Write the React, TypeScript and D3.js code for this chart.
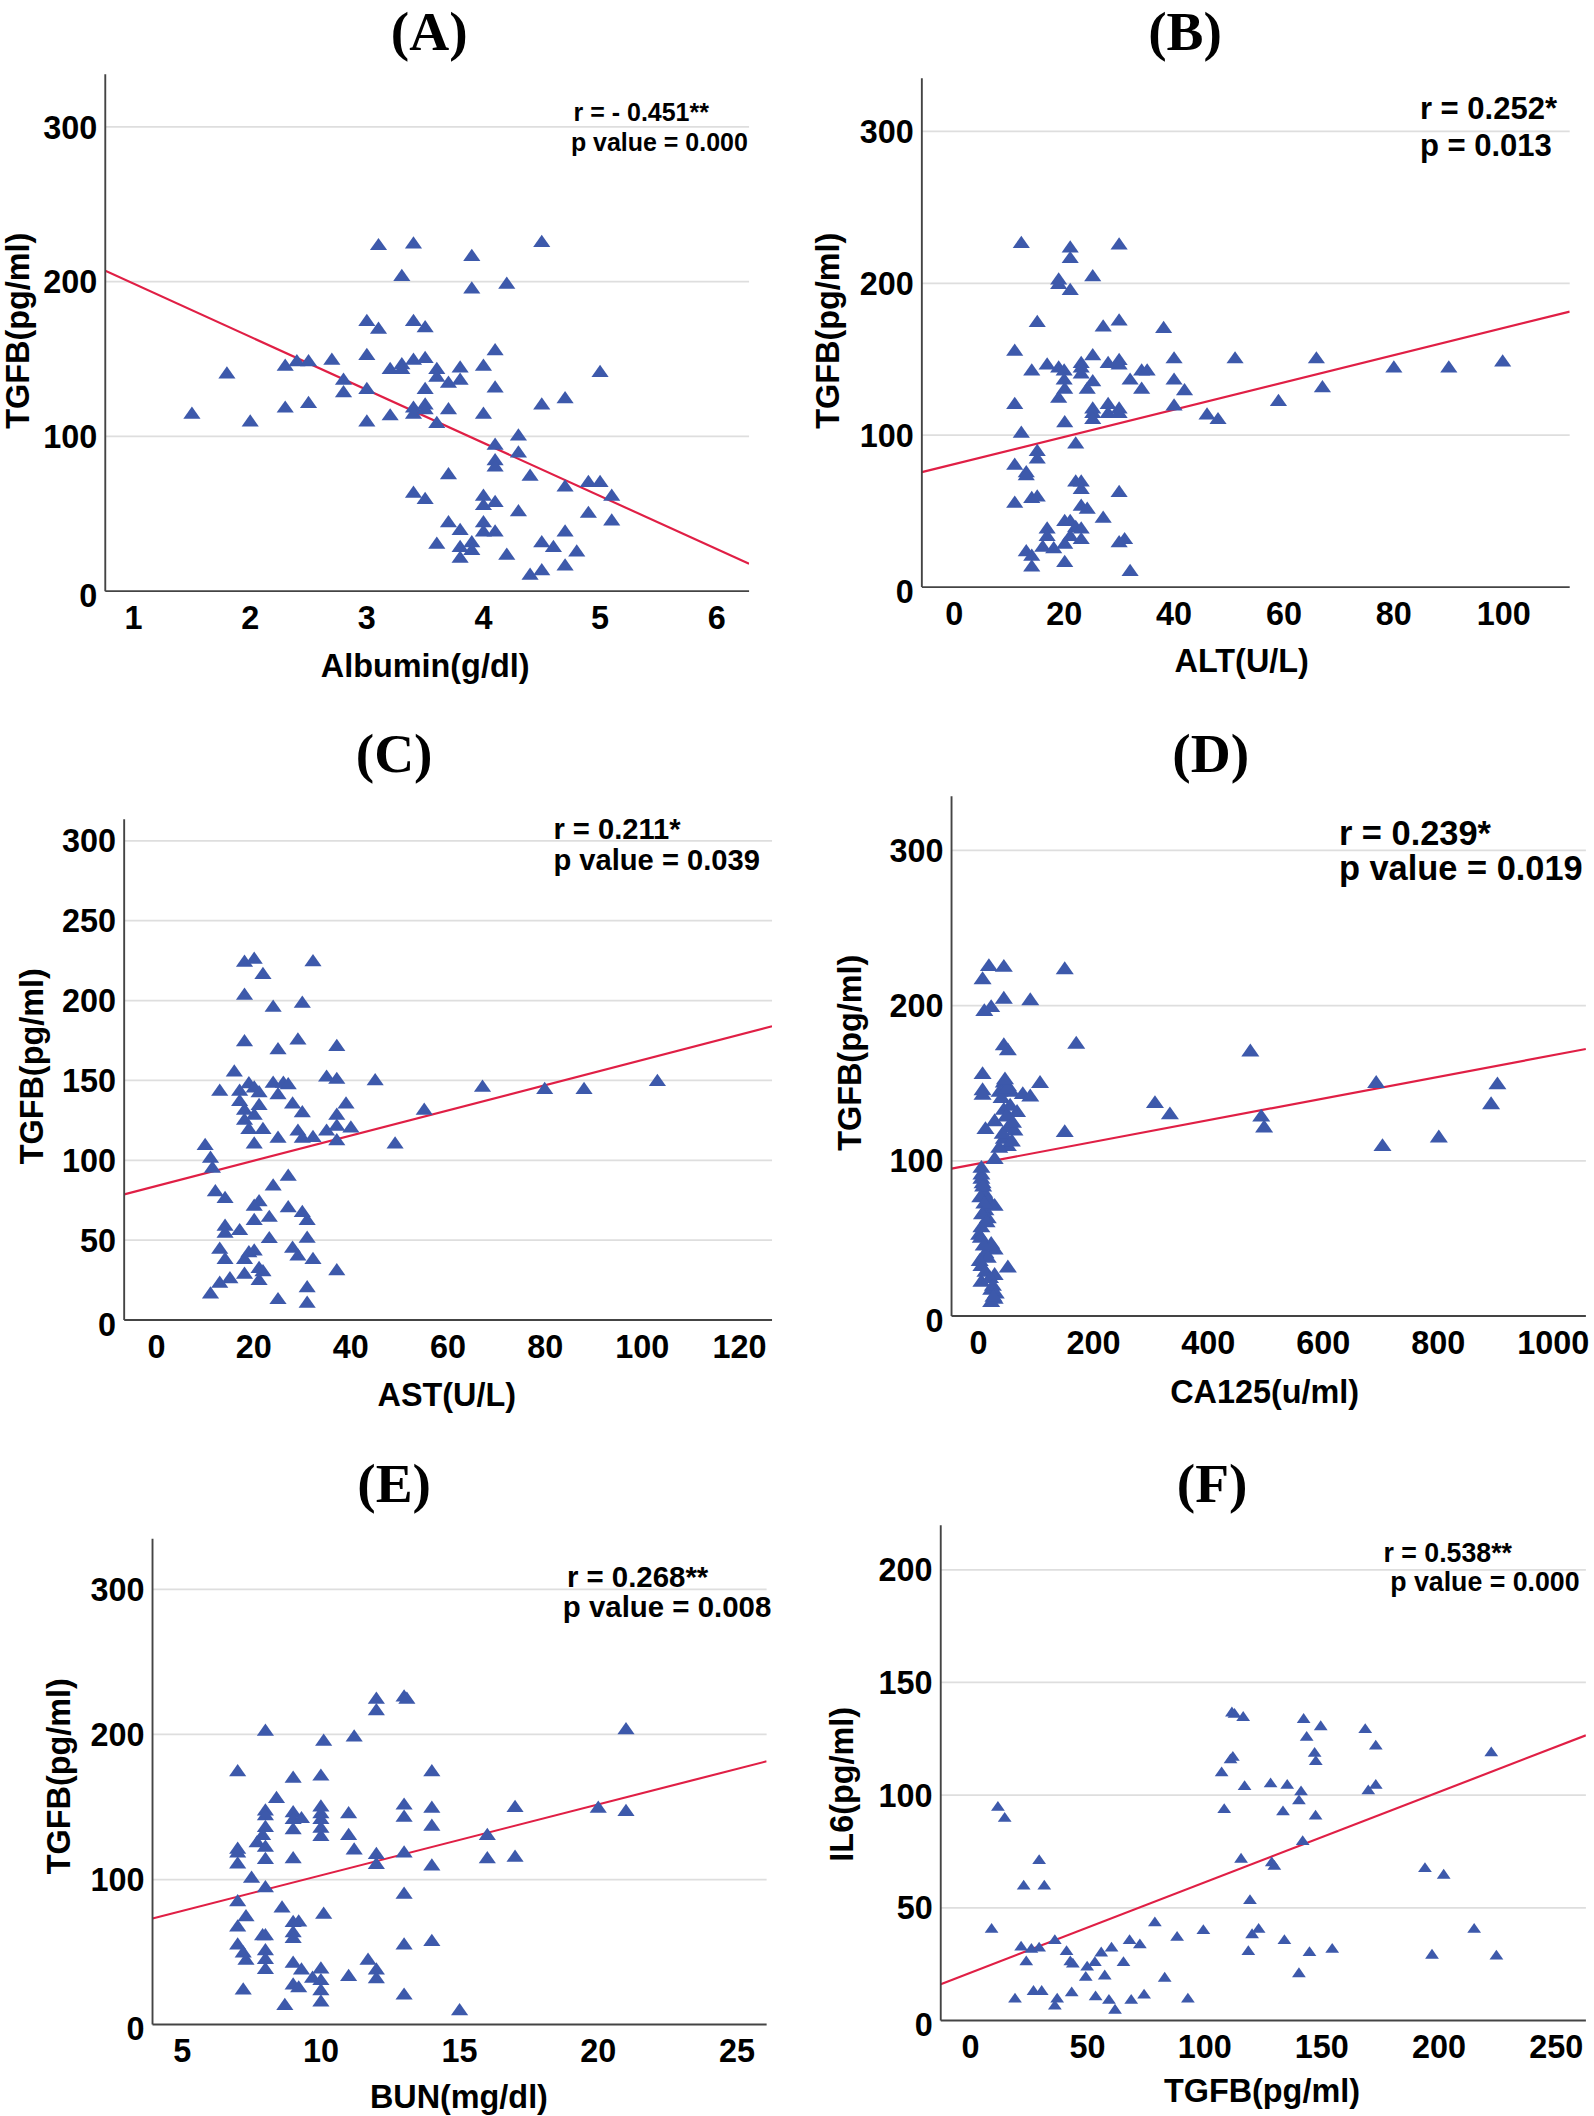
import React from "react";
import * as d3 from "d3";

const S = 1594 / 1181;

// ---------- Panel A: Albumin vs TGFB ----------
const albumin = [3.1, 3.4, 4.5, 3.9, 3.3, 3.9, 4.2, 3.0, 3.1, 3.4, 3.5, 4.1, 1.8, 2.3, 2.4, 2.5, 2.7, 3.0, 3.2, 3.3, 3.3, 3.4, 3.5, 3.6, 3.6, 3.7, 3.8, 3.8, 4.0, 5.0, 2.8, 2.8, 3.0, 3.5, 4.1, 1.5, 2.0, 2.3, 2.5, 3.0, 3.2, 3.4, 3.4, 3.5, 3.5, 3.6, 3.7, 4.0, 4.5, 4.7, 4.3, 4.1, 4.3, 4.1, 4.1, 3.7, 4.4, 4.9, 5.0, 4.7, 5.1, 3.4, 3.5, 4.0, 4.0, 4.1, 4.3, 4.9, 5.1, 3.7, 3.8, 4.0, 4.0, 4.1, 4.7, 3.6, 3.8, 3.9, 3.9, 3.8, 4.2, 4.5, 4.6, 4.8, 4.4, 4.5, 4.7];
const tgfbA = [223, 224, 225, 216, 203, 195, 198, 174, 169, 174, 170, 155, 140, 145, 148, 148, 149, 152, 143, 146, 143, 149, 150, 143, 138, 134, 144, 136, 145, 141, 136, 128, 130, 130, 131, 114, 109, 118, 121, 109, 113, 118, 114, 120, 117, 108, 117, 114, 120, 124, 100, 94, 89, 84, 80, 75, 74, 70, 70, 67, 61, 63, 59, 61, 55, 57, 51, 50, 45, 44, 39, 44, 38, 38, 38, 30, 28, 31, 26, 21, 23, 31, 28, 25, 10, 13, 16];
const fitA = [233, -34.3];

// ---------- Panel B: ALT vs TGFB ----------
const alt = [12.2, 21.1, 21.1, 30, 19, 19, 21.1, 25.2, 15.1, 27.1, 30, 38.1, 11, 14.1, 16.9, 19, 20, 20, 20.1, 19, 23.1, 23.1, 23.1, 25.2, 25.2, 24.2, 28, 30, 30, 32, 34.1, 35.1, 34.1, 40, 40, 41.9, 51.1, 65.9, 67, 80, 90, 99.8, 11, 25.2, 25.2, 25.2, 28, 28, 30, 30, 40, 46, 48, 59, 20.1, 12.2, 22.1, 15.1, 15.1, 11, 13.1, 13.1, 22.1, 23.1, 23.1, 30, 11, 14.1, 15.1, 23.1, 24.2, 27.1, 20.1, 21.1, 22.1, 16.9, 16.9, 23.1, 21.1, 23.1, 20.1, 30, 31, 13.1, 14.1, 16.1, 18.1, 14.1, 20.1, 32];
const tgfbB = [226, 223, 216, 225, 202, 199, 195, 204, 174, 171, 175, 170, 155, 142, 146, 144, 142, 136, 130, 124, 147, 144, 140, 152, 135, 130, 147, 149, 146, 136, 142, 142, 130, 150, 136, 129, 150, 150, 131, 144, 144, 148, 120, 117, 114, 110, 120, 114, 117, 114, 119, 113, 110, 122, 108, 101, 94, 89, 84, 80, 75, 73, 69, 69, 64, 62, 55, 58, 59, 53, 51, 45, 43, 43, 39, 38, 33, 38, 33, 31, 28, 29, 31, 23, 20, 26, 25, 13, 16, 10];
const fitB = [81.0, 0.896];

// ---------- Panel C: AST vs TGFB ----------
const ast = [18.1, 20.1, 32.2, 21.9, 18.1, 24, 30, 18.1, 25, 29.1, 37.1, 16, 13, 17.1, 17.1, 19, 20.1, 21.1, 24, 26.1, 27.1, 25, 35, 37.1, 45, 67.1, 79.9, 88, 103.1, 18.1, 18.1, 21.1, 20.1, 28, 30, 39, 37.1, 19, 21.9, 20.1, 25, 29.1, 30, 32.2, 35, 37.1, 37.1, 40, 49.1, 55.1, 10, 11.1, 11.5, 12.1, 14.1, 27.1, 24, 21.1, 20.1, 27.1, 30, 31, 23.2, 20.1, 14.1, 14.1, 17.1, 23.2, 31, 13, 14.1, 18.1, 19, 20.1, 28, 29.1, 32.2, 15.1, 13, 18.1, 21.1, 21.9, 21.1, 37.1, 11.1, 25, 31, 31];
const tgfbC = [223.7, 225.6, 224, 216, 203, 195.5, 198, 174, 169, 175, 171, 155, 143, 143, 136.5, 147.6, 145, 142, 148, 148, 147, 140.7, 151.8, 150.4, 149.6, 145.4, 144, 144, 149, 131, 124.8, 134, 128, 135, 129.5, 135, 128, 119, 119, 110, 113.6, 118, 113.6, 114, 118, 121, 112, 120, 110, 131, 109, 101, 94.7, 80, 75.8, 89.7, 83.6, 73.8, 71, 70, 67, 62, 64, 62, 58.5, 54, 55.7, 50.7, 51, 44, 37.6, 37.6, 41.8, 43, 44.6, 39.8, 37.6, 25.6, 22.8, 28.4, 32, 30, 24.5, 30.6, 16, 12.5, 20, 10.3];
const fitC = [83.9, 0.789];

// ---------- Panel D: CA125 vs TGFB ----------
const ca125 = [18, 44, 150, 7, 44, 90, 10, 22, 170, 44, 51, 473, 7, 7, 7, 44, 51, 57, 36.6, 77, 90, 107, 692, 903, 892, 307, 333, 492, 497, 150, 703, 801, 44, 67, 28, 12, 51, 62.5, 44, 51, 28, 5, 5, 7, 10, 18, 28, 12, 16, 5, 1, 22, 28, 12, 51, 5, 28, 5, 22, 28, 22, 5, 8, 3, 10, 6, 14, 4, 9, 16, 2, 12, 20, 25, 30, 26, 40, 55, 48, 60, 42, 58, 36, 50, 46];
const tgfbD = [225, 224.5, 223, 216.5, 204, 203, 196, 198.6, 175, 174, 170.7, 170, 155.4, 145, 142, 150, 147.7, 144, 144, 142.5, 141, 149.7, 149.7, 148.8, 136, 136.7, 129.5, 128, 121, 118, 109, 114.6, 132.4, 131, 125, 120, 121, 119, 113.7, 109, 100.7, 95, 90.7, 85, 79, 74, 70.5, 67.6, 62.5, 56.7, 51.8, 46, 42.3, 40, 30.8, 31.7, 26, 21.6, 16.4, 10.7, 8.6, 88, 83, 76, 72, 65, 60, 50, 45, 37, 35, 28, 24, 19, 14, 12, 140, 135, 128, 124, 117, 112, 108, 146, 152];
const fitD = [98.2, 0.0698];

// ---------- Panel E: BUN vs TGFB ----------
const bun = [12, 12, 13, 13.1, 8, 21, 10.1, 11.2, 7, 9, 10, 14, 8.4, 8, 8, 9, 9, 9.3, 10, 10, 10, 11, 13, 13, 14, 14, 17, 20, 21, 8, 9, 10, 10, 11, 16, 7.9, 7.7, 8, 7, 7, 7, 8, 9, 11.2, 12, 12, 13, 14, 16, 17, 7.5, 8, 13, 7, 8.6, 10.1, 7.3, 9, 9.2, 7, 9, 9, 7.9, 8, 14, 13, 7, 7.2, 8, 7.3, 8, 8, 9, 9.3, 10, 11.7, 12, 9.7, 10, 11, 12, 9, 9.2, 10, 7.2, 13, 10, 8.7, 15];
const tgfbE = [224, 216, 225.5, 224, 202, 203, 195, 198, 174, 169.6, 171, 174, 155.5, 147, 143.6, 145.7, 141, 141.7, 149.7, 145, 141, 145, 151, 142.6, 148.8, 136.5, 149.4, 148.8, 146.6, 135.6, 134, 135, 129.4, 130, 130, 130, 125, 122, 120.6, 118, 110.4, 113.5, 114, 120, 117, 110, 118, 109, 114, 115, 100.6, 94, 89.6, 84.4, 80, 75.8, 74, 70, 70.5, 67, 63, 59, 61, 61, 57, 54.6, 54.6, 49, 50.6, 44, 44.5, 37.7, 42, 37.4, 38, 44, 37.4, 31.6, 30, 32.8, 31.3, 27, 25, 23, 23.6, 20, 15.3, 12.9, 9.2];
const fitE = [53.9, 4.894];

// ---------- Panel F: TGFB vs IL6 ----------
const tgfbF = [112.7, 111.6, 116.4, 142.2, 149.5, 168.5, 143.5, 173, 112, 111, 146.9, 147.4, 222.3, 107.2, 117, 128.1, 135.2, 169.8, 173, 141.1, 140.2, 133.4, 147.3, 108.3, 11.7, 14.6, 141.8, 115.5, 128.6, 129.7, 29.3, 22.7, 31.5, 194, 202, 119.3, 9, 78.7, 99.4, 123, 120.2, 215, 88.2, 67.9, 72.3, 134, 21.6, 26, 29.3, 36, 41, 60.2, 55.8, 154.4, 118.6, 144.7, 197, 224.5, 23.8, 42.6, 43.7, 53.1, 65.3, 49.8, 49.2, 57.3, 82.9, 140.2, 26.9, 30.4, 43.2, 19, 37, 36, 53.4, 59.1, 61.7, 68.6, 74.1, 92.8];
const il6 = [135.8, 136.4, 134.4, 133.5, 130.3, 129, 125.6, 121.7, 116.7, 115.6, 118.5, 114.8, 118.7, 109.8, 103.7, 104.9, 104.3, 101.8, 104.3, 101.4, 97.4, 92.5, 90.6, 93.5, 94.5, 89.6, 79.3, 71.5, 69.9, 68.3, 70.9, 59.6, 59.6, 67.3, 64.4, 53.1, 40.4, 43.3, 39.8, 40.4, 38, 40.4, 36.8, 35.4, 33.5, 35.4, 32.5, 31.5, 32.1, 35.4, 30.5, 32.1, 29.9, 31.5, 30.5, 30.1, 28.9, 28.5, 26, 26, 25, 25.6, 25.6, 23.6, 19.1, 19.7, 18.7, 20.7, 12.8, 12.8, 12.2, 9.4, 9.4, 6.3, 10.4, 8.9, 4.5, 8.9, 11.2, 9.4];
const fitF = [21.2, 0.401];

// ---------- Tick values ----------
const xTicksA = [1, 2, 3, 4, 5, 6];
const xTicksB = [0, 20, 40, 60, 80, 100];
const xTicksC = [0, 20, 40, 60, 80, 100, 120];
const xTicksD = [0, 200, 400, 600, 800, 1000];
const xTicksE = [5, 10, 15, 20, 25];
const xTicksF = [0, 50, 100, 150, 200, 250];
const yTicks300 = [0, 100, 200, 300];
const yTicksC = [0, 50, 100, 150, 200, 250, 300];
const yTicksF = [0, 50, 100, 150, 200];

const BLUE = "#3d59ab";
const RED = "#e01f45";
const SANS = "'Liberation Sans', Arial, sans-serif";
const SERIF = "'Liberation Serif', 'Times New Roman', serif";

type Note = { text: string; x: number; y: number };
type Panel = {
  title: string; tx: number; ty: number;
  xs: number[]; ys: number[]; fit: number[];
  xDom: [number, number]; yDom: [number, number];
  left: number; right: number; top: number; bottom: number;
  xTicks: number[]; yTicks: number[];
  xLabel: string; yLabel: string;
  xl: [number, number]; yl: [number, number];
  notes: Note[]; noteSize: number; marker: number;
};

// ty = baseline of the panel letter
const panels: Panel[] = [
  {
    title: "(A)", tx: 318, ty: 37, xs: albumin, ys: tgfbA, fit: fitA,
    xDom: [0.757, 6.278], yDom: [0, 334], left: 78, right: 555, top: 55, bottom: 438,
    xTicks: xTicksA, yTicks: yTicks300, xLabel: "Albumin(g/dl)", yLabel: "TGFB(pg/ml)",
    xl: [315, 493], yl: [13, 245],
    notes: [{ text: "r = - 0.451**", x: 425, y: 83 }, { text: "p value = 0.000", x: 423, y: 105 }], noteSize: 18.5, marker: 56,
  },
  {
    title: "(B)", tx: 878, ty: 37, xs: alt, ys: tgfbB, fit: fitB,
    xDom: [-5.9, 112.0], yDom: [0, 335], left: 683, right: 1163, top: 58, bottom: 435,
    xTicks: xTicksB, yTicks: yTicks300, xLabel: "ALT(U/L)", yLabel: "TGFB(pg/ml)",
    xl: [920, 489], yl: [613, 245],
    notes: [{ text: "r = 0.252*", x: 1052, y: 80 }, { text: "p = 0.013", x: 1052, y: 107 }], noteSize: 23, marker: 56,
  },
  {
    title: "(C)", tx: 292, ty: 572, xs: ast, ys: tgfbC, fit: fitC,
    xDom: [-6.67, 126.7], yDom: [0, 313.5], left: 92, right: 572, top: 607, bottom: 978,
    xTicks: xTicksC, yTicks: yTicksC, xLabel: "AST(U/L)", yLabel: "TGFB(pg/ml)",
    xl: [331, 1033], yl: [23, 790],
    notes: [{ text: "r = 0.211*", x: 410, y: 614 }, { text: "p value = 0.039", x: 410, y: 637 }], noteSize: 21.6, marker: 56,
  },
  {
    title: "(D)", tx: 897, ty: 572, xs: ca125, ys: tgfbD, fit: fitD,
    xDom: [-47, 1057], yDom: [0, 334.8], left: 705, right: 1175, top: 590, bottom: 975,
    xTicks: xTicksD, yTicks: yTicks300, xLabel: "CA125(u/ml)", yLabel: "TGFB(pg/ml)",
    xl: [937, 1031], yl: [629, 780],
    notes: [{ text: "r = 0.239*", x: 992, y: 617 }, { text: "p value = 0.019", x: 992, y: 643 }], noteSize: 25.5, marker: 62,
  },
  {
    title: "(E)", tx: 292, ty: 1113, xs: bun, ys: tgfbE, fit: fitE,
    xDom: [3.93, 26.07], yDom: [0, 335], left: 113, right: 568, top: 1140, bottom: 1500,
    xTicks: xTicksE, yTicks: yTicks300, xLabel: "BUN(mg/dl)", yLabel: "TGFB(pg/ml)",
    xl: [340, 1553], yl: [43, 1316],
    notes: [{ text: "r = 0.268**", x: 420, y: 1168 }, { text: "p value = 0.008", x: 417, y: 1190 }], noteSize: 21.8, marker: 56,
  },
  {
    title: "(F)", tx: 898, ty: 1113, xs: tgfbF, ys: il6, fit: fitF,
    xDom: [-12.7, 262.7], yDom: [0, 219.8], left: 697, right: 1175, top: 1130, bottom: 1497,
    xTicks: xTicksF, yTicks: yTicksF, xLabel: "TGFB(pg/ml)", yLabel: "IL6(pg/ml)",
    xl: [935, 1549], yl: [623, 1322],
    notes: [{ text: "r = 0.538**", x: 1025, y: 1150 }, { text: "p value = 0.000", x: 1030, y: 1172 }], noteSize: 19.8, marker: 36,
  },
];

function PanelView({ p }: { p: Panel }) {
  const x = d3.scaleLinear().domain(p.xDom).range([p.left, p.right]);
  const y = d3.scaleLinear().domain(p.yDom).range([p.bottom, p.top]);
  const tri = d3.symbol().type(d3.symbolTriangle).size(p.marker)() as string;
  const line = d3.line<number>().x((v) => x(v)).y((v) => y(p.fit[0] + p.fit[1] * v));
  const fs = 24;
  const cid = "clip" + p.title.replace(/[()]/g, "");
  return (
    <g>
      <text x={p.tx} y={p.ty} textAnchor="middle"
        fontFamily={SERIF} fontWeight="bold" fontSize={41} fill="#000">{p.title}</text>
      {p.yTicks.filter((t) => t !== 0).map((t) => (
        <line key={"g" + t} x1={p.left} x2={p.right} y1={y(t)} y2={y(t)} stroke="#dedede" strokeWidth={1.3} />
      ))}
      <clipPath id={cid}>
        <rect x={p.left} y={p.top} width={p.right - p.left} height={p.bottom - p.top} />
      </clipPath>
      <path d={line([p.xDom[0], p.xDom[1]]) || ""} stroke={RED} strokeWidth={1.6} fill="none"
        clipPath={`url(#${cid})`} />
      {p.xs.map((v, i) => (
        <path key={i} d={tri} transform={`translate(${x(v)},${y(p.ys[i])}) scale(1.12,0.92)`} fill={BLUE} />
      ))}
      <line x1={p.left} x2={p.left} y1={p.top} y2={p.bottom} stroke="#444" strokeWidth={1.4} />
      <line x1={p.left} x2={p.right} y1={p.bottom} y2={p.bottom} stroke="#444" strokeWidth={1.4} />
      {p.yTicks.map((t) => (
        <text key={"y" + t} x={p.left - 6} y={y(t) + (t === 0 ? 3 : 0)} dy="0.36em" textAnchor="end"
          fontFamily={SANS} fontWeight="bold" fontSize={fs} fill="#000">{t}</text>
      ))}
      {p.xTicks.map((t) => (
        <text key={"x" + t} x={x(t)} y={p.bottom + 28} textAnchor="middle"
          fontFamily={SANS} fontWeight="bold" fontSize={fs} fill="#000">{t}</text>
      ))}
      <text x={p.xl[0]} y={p.xl[1]} dy="0.36em" textAnchor="middle" fontFamily={SANS} fontWeight="bold" fontSize={fs} fill="#000">{p.xLabel}</text>
      <text transform={`translate(${p.yl[0]},${p.yl[1]}) rotate(-90)`} dy="0.36em" textAnchor="middle"
        fontFamily={SANS} fontWeight="bold" fontSize={fs} fill="#000">{p.yLabel}</text>
      {p.notes.map((n, i) => (
        <text key={"n" + i} x={n.x} y={n.y} dy="0.36em" fontFamily={SANS} fontWeight="bold" fontSize={p.noteSize} fill="#000">{n.text}</text>
      ))}
    </g>
  );
}

export default function App() {
  return (
    <svg width={1594} height={2116} style={{ position: "absolute", left: 0, top: 0, background: "#fff" }}>
      <rect x={0} y={0} width={1594} height={2116} fill="#fff" />
      <g transform={`scale(${S})`}>
        {panels.map((p) => (
          <PanelView key={p.title} p={p} />
        ))}
      </g>
    </svg>
  );
}
